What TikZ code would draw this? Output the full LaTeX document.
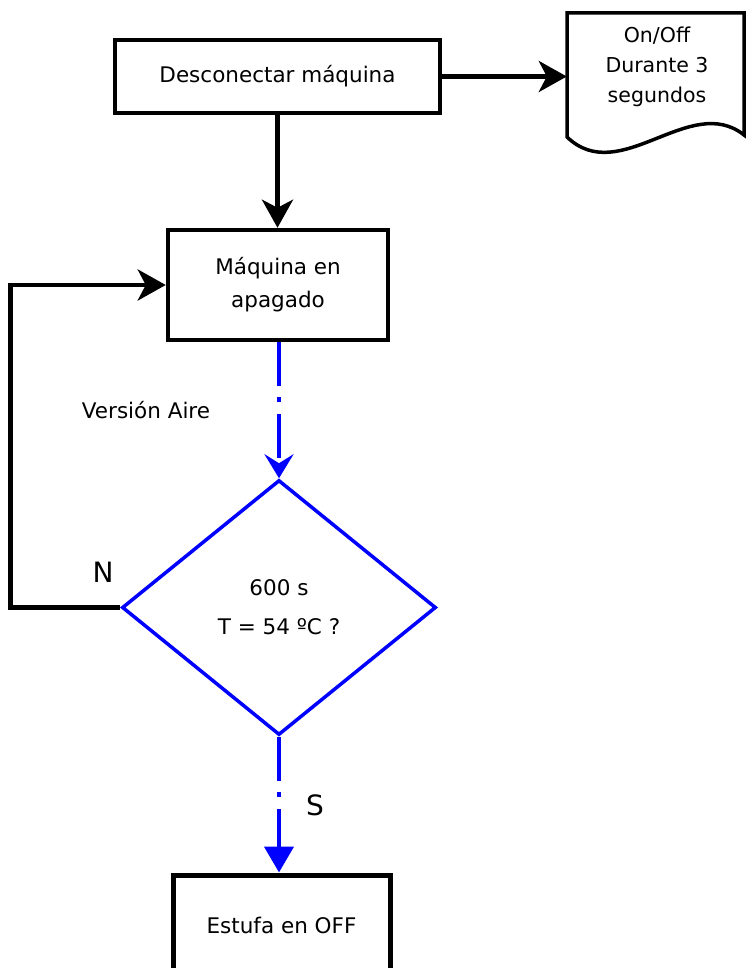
\documentclass[tikz,border=0pt]{standalone}
\usepackage{fontspec}
\setmainfont{DejaVu Sans}
\usetikzlibrary{arrows.meta,shapes.geometric}
\begin{document}
\begin{tikzpicture}[x=1pt,y=-1pt,
  box/.style={draw=black, line width=4.5pt, fill=white, inner sep=0pt, align=center,
              font=\fontsize{21.5}{33}\selectfont},
  arr/.style={draw=black, line width=4.5pt, -{Stealth[length=28pt,width=31pt,inset=8pt]}},
  bluedash/.style={draw=blue, line width=4.5pt, dash pattern=on 44pt off 11pt on 5pt off 12pt},
  lbl/.style={inner sep=0pt, font=\fontsize{21.5}{33}\selectfont},
  big/.style={inner sep=0pt, font=\fontsize{28}{33}\selectfont}
]
\useasboundingbox (0,0) rectangle (746,968);
\clip (0,0) rectangle (746,968);

% boxes
\node[box, minimum width=325pt, minimum height=73pt] (b1) at (277.5,76.5) {Desconectar máquina};
\node[box, minimum width=220pt, minimum height=110pt] (b2) at (278,285) {Máquina en\\apagado};
\node[box, line width=5pt, minimum width=217pt, minimum height=100pt] (b3) at (281.5,925) {Estufa en OFF};

% document shape
\draw[line width=3.5pt, fill=white] (567,137) -- (567,13) -- (744,13) -- (744,135)
  .. controls (690,92) and (620,188) .. (567,137) -- cycle;
\node[inner sep=0pt, minimum width=177pt, minimum height=124pt] (doc) at (655.5,75) {};
\node[inner sep=0pt, align=center, font=\fontsize{20.5}{30}\selectfont] (doctxt) at (657,67)
  {On/Off\\Durante 3\\segundos};

% decision
\node[draw=blue, line width=3.5pt, shape=diamond, minimum width=314pt, minimum height=255pt,
      inner sep=0pt, align=center, font=\fontsize{21.5}{39}\selectfont] (dia) at (279,607.5)
  {600 s\\T = 54 ºC ?};

% labels
\node[lbl] (va) at (146,410) {Versión Aire};
\node[big] (n) at (103,572) {N};
\node[big] (s) at (315,805) {S};

% connectors
\draw[arr] (b1.east) -- (b1.east -| doc.west);
\draw[arr] (b1.south) -- (b1.south |- b2.north);
\draw[arr] (dia.west) -- ++(-110,0) |- (b2.west);
\draw[bluedash, -{Stealth[length=24pt,width=29pt,inset=9pt]}] (dia.north |- b2.south) -- (dia.north);
\draw[bluedash, -{Triangle[length=26pt,width=29pt]}] (dia.south) -- (dia.south |- b3.north);
\end{tikzpicture}
\end{document}
